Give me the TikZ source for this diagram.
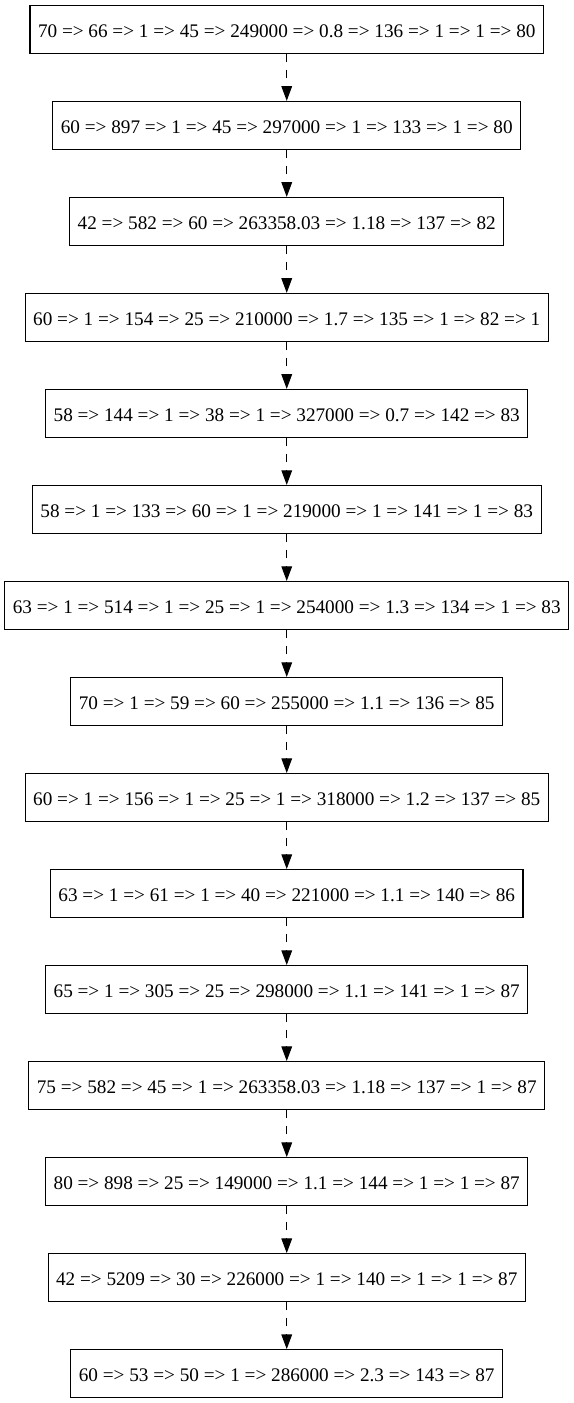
\documentclass[tikz,border=0pt]{standalone}
\usepackage{fontspec}
\setmainfont{Liberation Serif}
\usetikzlibrary{arrows.meta}
\tikzset{
  recbox/.style={draw=black, line width=0.8pt, rectangle, minimum height=36pt,
    inner xsep=6pt, inner ysep=0pt, text height=11.5pt, text depth=0pt,
    font=\fontsize{14.4}{17}\selectfont, anchor=center},
  flow/.style={draw=black, line width=0.8pt, dash pattern=on 6pt off 6pt,
    -{Triangle[length=11pt,width=8pt]}}
}
\begin{document}
\begin{tikzpicture}[x=1pt,y=1pt]
\useasboundingbox (0,0) rectangle (430,-1052);
\node[recbox] (n1)  at (215,-22)   {70 => 66 => 1 => 45 => 249000 => 0.8 => 136 => 1 => 1 => 80};
\node[recbox] (n2)  at (215,-94)   {60 => 897 => 1 => 45 => 297000 => 1 => 133 => 1 => 80};
\node[recbox] (n3)  at (215,-166)  {42 => 582 => 60 => 263358.03 => 1.18 => 137 => 82};
\node[recbox] (n4)  at (215,-238)  {60 => 1 => 154 => 25 => 210000 => 1.7 => 135 => 1 => 82 => 1};
\node[recbox] (n5)  at (215,-310)  {58 => 144 => 1 => 38 => 1 => 327000 => 0.7 => 142 => 83};
\node[recbox] (n6)  at (215,-382)  {58 => 1 => 133 => 60 => 1 => 219000 => 1 => 141 => 1 => 83};
\node[recbox] (n7)  at (215,-454)  {63 => 1 => 514 => 1 => 25 => 1 => 254000 => 1.3 => 134 => 1 => 83};
\node[recbox] (n8)  at (215,-526)  {70 => 1 => 59 => 60 => 255000 => 1.1 => 136 => 85};
\node[recbox] (n9)  at (215,-598)  {60 => 1 => 156 => 1 => 25 => 1 => 318000 => 1.2 => 137 => 85};
\node[recbox] (n10) at (215,-670)  {63 => 1 => 61 => 1 => 40 => 221000 => 1.1 => 140 => 86};
\node[recbox] (n11) at (215,-742)  {65 => 1 => 305 => 25 => 298000 => 1.1 => 141 => 1 => 87};
\node[recbox] (n12) at (215,-814)  {75 => 582 => 45 => 1 => 263358.03 => 1.18 => 137 => 1 => 87};
\node[recbox] (n13) at (215,-886)  {80 => 898 => 25 => 149000 => 1.1 => 144 => 1 => 1 => 87};
\node[recbox] (n14) at (215,-958)  {42 => 5209 => 30 => 226000 => 1 => 140 => 1 => 1 => 87};
\node[recbox] (n15) at (215,-1030) {60 => 53 => 50 => 1 => 286000 => 2.3 => 143 => 87};
\foreach \a/\b in {n1/n2,n2/n3,n3/n4,n4/n5,n5/n6,n6/n7,n7/n8,n8/n9,n9/n10,n10/n11,n11/n12,n12/n13,n13/n14,n14/n15}
  \draw[flow] (\a.south) -- (\b.north);
\end{tikzpicture}
\end{document}
